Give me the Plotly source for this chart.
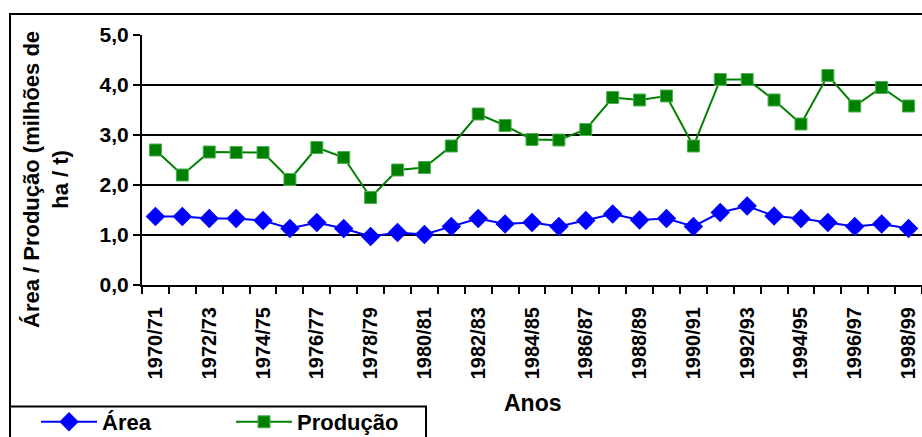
import plotly.graph_objects as go

seasons = ["1970/71", "1971/72", "1972/73", "1973/74", "1974/75", "1975/76", "1976/77",
           "1977/78", "1978/79", "1979/80", "1980/81", "1981/82", "1982/83", "1983/84",
           "1984/85", "1985/86", "1986/87", "1987/88", "1988/89", "1989/90", "1990/91",
           "1991/92", "1992/93", "1993/94", "1994/95", "1995/96", "1996/97", "1997/98",
           "1998/99"]
area = [1.37, 1.37, 1.33, 1.33, 1.29, 1.13, 1.25, 1.13, 0.97, 1.05, 1.01, 1.17, 1.33, 1.22,
        1.25, 1.17, 1.29, 1.42, 1.30, 1.33, 1.17, 1.45, 1.58, 1.38, 1.33, 1.25, 1.17, 1.22,
        1.13]
producao = [2.70, 2.20, 2.66, 2.65, 2.65, 2.11, 2.75, 2.55, 1.75, 2.30, 2.35, 2.78, 3.42, 3.19,
            2.91, 2.90, 3.11, 3.75, 3.70, 3.78, 2.78, 4.11, 4.11, 3.70, 3.22, 4.19, 3.58, 3.95,
            3.58]
y_ticks = [0, 1, 2, 3, 4, 5]

idx = list(range(len(seasons)))
FONT = "Liberation Sans, Arial, sans-serif"

# plot area in pixels (for placing paper-referenced decorations)
L, R, T, B = 142, 922, 35, 285
W, H = R - L, B - T


def px(x):
    return (x - L) / W


def py(y):
    return (B - y) / H


fig = go.Figure()
fig.add_trace(go.Scatter(
    x=idx, y=area, name="Área", customdata=seasons, mode="lines+markers",
    line=dict(color="#0000FF", width=2),
    marker=dict(symbol="diamond", size=15, color="#0000FF"),
    hovertemplate="%{customdata}: %{y:.2f}<extra>Área</extra>"))
fig.add_trace(go.Scatter(
    x=idx, y=producao, name="Produção", customdata=seasons, mode="lines+markers",
    line=dict(color="#008000", width=2),
    marker=dict(symbol="square", size=12, color="#008000", line=dict(color="#4caf50", width=1)),
    hovertemplate="%{customdata}: %{y:.2f}<extra>Produção</extra>"))

fig.update_layout(
    width=922, height=437,
    margin=dict(l=L, r=922 - R, t=T, b=437 - B, pad=0, autoexpand=False),
    paper_bgcolor="white", plot_bgcolor="white",
    separators=",.",
    font=dict(family=FONT, color="black", weight="bold"),
    showlegend=True,
    legend=dict(orientation="h", x=px(36), y=py(422), xanchor="left", yanchor="middle",
                font=dict(size=22, family=FONT, weight="bold"),
                itemwidth=56, entrywidth=124, bgcolor="rgba(0,0,0,0)", borderwidth=0),
    xaxis=dict(range=[-0.5, len(seasons) - 0.5], tickmode="array", automargin=False,
               tickvals=idx[::2], ticktext=seasons[::2], tickangle=-90,
               tickfont=dict(size=20, family=FONT, weight="bold"),
               ticks="", showgrid=False, zeroline=False, ticklabelstandoff=12,
               showline=True, linecolor="black", linewidth=2,
               minor=dict(tickmode="linear", tick0=-0.5, dtick=1, ticks="outside",
                          ticklen=7, tickwidth=2, tickcolor="black", showgrid=False),
               fixedrange=True),
    yaxis=dict(range=[0, 5], tickmode="array", tickvals=y_ticks, tickformat=".1f",
               automargin=False,
               tickfont=dict(size=21, family=FONT, weight="bold"),
               ticks="outside", ticklen=7, tickwidth=2, tickcolor="black",
               showgrid=True, gridcolor="black", gridwidth=2, zeroline=False,
               showline=True, linecolor="black", linewidth=2, fixedrange=True),
    shapes=[
        dict(type="rect", xref="paper", yref="paper", x0=px(10), x1=px(960), y0=py(480), y1=py(14),
             line=dict(color="black", width=2), fillcolor="rgba(0,0,0,0)", layer="below"),
        dict(type="rect", xref="paper", yref="paper", x0=px(10), x1=px(426), y0=py(480), y1=py(406.5),
             line=dict(color="black", width=2), fillcolor="rgba(0,0,0,0)", layer="below"),
    ],
    annotations=[
        dict(text="Área / Produção (milhões de<br>ha / t)", xref="paper", yref="paper",
             x=px(46), y=py(180), xanchor="center", yanchor="middle", textangle=-90,
             showarrow=False, font=dict(size=22, family=FONT, weight="bold")),
        dict(text="Anos", xref="paper", yref="paper", x=px(533), y=py(403),
             xanchor="center", yanchor="middle", showarrow=False,
             font=dict(size=23, family=FONT, weight="bold")),
    ],
)

fig.write_html("out.html")
